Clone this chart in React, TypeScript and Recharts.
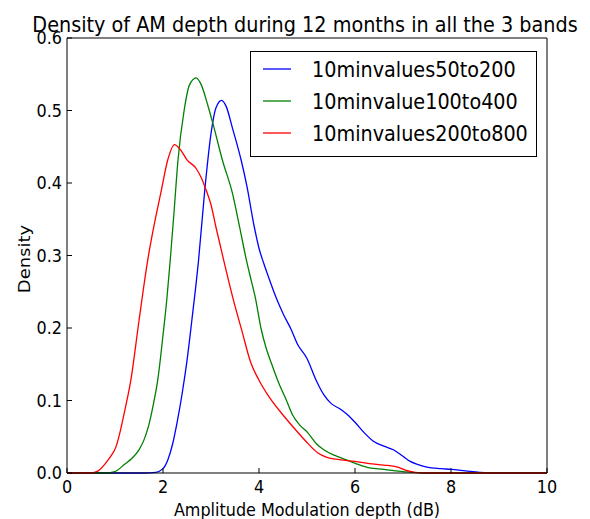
import { LineChart, Line, XAxis, YAxis } from "recharts";

// density curves, [x (dB), density]
const blueDensity: [number, number][] = [
  [0, 0], [1.6, 0], [1.85, 0.001], [2.0, 0.006], [2.1, 0.018], [2.2, 0.04], [2.3, 0.072],
  [2.4, 0.11], [2.5, 0.155], [2.6, 0.21], [2.74, 0.293], [2.87, 0.39], [3.0, 0.468],
  [3.1, 0.503], [3.22, 0.514], [3.32, 0.505], [3.45, 0.475], [3.63, 0.431], [3.75, 0.395],
  [3.9, 0.34], [4.0, 0.31], [4.1, 0.289], [4.2, 0.27], [4.35, 0.243], [4.5, 0.22],
  [4.67, 0.198], [4.8, 0.178], [5.0, 0.158], [5.19, 0.128], [5.35, 0.108], [5.5, 0.096],
  [5.7, 0.088], [5.85, 0.08], [6.0, 0.07], [6.2, 0.055], [6.4, 0.043], [6.6, 0.037],
  [6.8, 0.032], [7.0, 0.023], [7.15, 0.016], [7.3, 0.012], [7.5, 0.008], [7.8, 0.006],
  [8.0, 0.005], [8.3, 0.003], [8.6, 0.001], [9.0, 0], [10, 0],
];

const greenDensity: [number, number][] = [
  [0, 0], [0.8, 0], [1.0, 0.002], [1.2, 0.012], [1.35, 0.02], [1.5, 0.032], [1.6, 0.045],
  [1.7, 0.065], [1.8, 0.095], [1.89, 0.128], [2.0, 0.19], [2.08, 0.24], [2.15, 0.293],
  [2.23, 0.36], [2.31, 0.43], [2.44, 0.5], [2.55, 0.535], [2.69, 0.545], [2.8, 0.535],
  [2.93, 0.508], [3.06, 0.477], [3.24, 0.431], [3.45, 0.385], [3.6, 0.338], [3.74, 0.293],
  [3.84, 0.265], [3.92, 0.243], [4.04, 0.2], [4.15, 0.172], [4.26, 0.151], [4.4, 0.126],
  [4.56, 0.102], [4.7, 0.08], [4.85, 0.066], [5.01, 0.056], [5.2, 0.04], [5.35, 0.032],
  [5.55, 0.025], [5.71, 0.021], [6.02, 0.013], [6.3, 0.007], [6.6, 0.005], [7.0, 0.002],
  [7.4, 0], [10, 0],
];

const redDensity: [number, number][] = [
  [0, 0], [0.5, 0], [0.65, 0.003], [0.81, 0.014], [0.92, 0.024], [1.02, 0.036], [1.1, 0.055],
  [1.2, 0.085], [1.33, 0.128], [1.5, 0.21], [1.68, 0.293], [1.8, 0.337], [1.96, 0.388],
  [2.1, 0.432], [2.24, 0.453], [2.35, 0.447], [2.5, 0.432], [2.69, 0.42], [2.8, 0.407],
  [2.9, 0.39], [3.0, 0.37], [3.1, 0.34], [3.28, 0.289], [3.45, 0.243], [3.64, 0.197],
  [3.83, 0.152], [4.0, 0.128], [4.21, 0.105], [4.5, 0.08], [4.77, 0.059], [5.0, 0.042],
  [5.22, 0.028], [5.4, 0.022], [5.6, 0.019], [6.0, 0.016], [6.3, 0.013], [6.6, 0.011],
  [6.89, 0.008], [7.05, 0.004], [7.25, 0.001], [7.5, 0], [10, 0],
];

const X_TICKS = [0, 2, 4, 6, 8, 10];
const Y_TICKS = [0, 0.1, 0.2, 0.3, 0.4, 0.5, 0.6];

const SERIES = [
  { name: "10minvalues50to200", color: "#0000ff", points: blueDensity },
  { name: "10minvalue100to400", color: "#008000", points: greenDensity },
  { name: "10minvalues200to800", color: "#ff0000", points: redDensity },
];

const FONT = "DejaVu Sans";
const SQUEEZE = 0.89; // the reference text is a bit narrow
const FRAME = "#000";
const TICK_LEN = 5;

const toRows = (pts: [number, number][]) => pts.map(([x, y]) => ({ x, y }));

const BottomTick = ({ x, y, payload }: any) => (
  <g>
    <line x1={x} y1={y} x2={x} y2={y - TICK_LEN} stroke={FRAME} />
    <text
      transform={`translate(${x},${y + 20}) scale(${SQUEEZE},1)`}
      textAnchor="middle"
      fontSize={18}
      fontFamily={FONT}
      fill="#000"
    >
      {payload.value}
    </text>
  </g>
);

const TopTick = ({ x, y }: any) => (
  <line x1={x} y1={y} x2={x} y2={y + TICK_LEN} stroke={FRAME} />
);

const LeftTick = ({ x, y, payload }: any) => (
  <g>
    <line x1={x} y1={y} x2={x + TICK_LEN} y2={y} stroke={FRAME} />
    <text
      transform={`translate(${x - 5},${y + 6}) scale(${SQUEEZE},1)`}
      textAnchor="end"
      fontSize={18}
      fontFamily={FONT}
      fill="#000"
    >
      {Number(payload.value).toFixed(1)}
    </text>
  </g>
);

const RightTick = ({ x, y }: any) => (
  <line x1={x} y1={y} x2={x - TICK_LEN} y2={y} stroke={FRAME} />
);

const Overlay = () => (
  <svg
    width={590}
    height={519}
    style={{ position: "absolute", left: 0, top: 0, pointerEvents: "none" }}
  >
    <text
      transform={`translate(305,32) scale(${SQUEEZE},1)`}
      textAnchor="middle"
      fontSize={21.6}
      fontFamily={FONT}
      fill="#000"
    >
      Density of AM depth during 12 months in all the 3 bands
    </text>
    <text
      transform={`translate(307,516) scale(${SQUEEZE},1)`}
      textAnchor="middle"
      fontSize={18}
      fontFamily={FONT}
      fill="#000"
    >
      Amplitude Modulation depth (dB)
    </text>
    <text
      transform={`translate(30,259) rotate(-90) scale(1,${SQUEEZE})`}
      textAnchor="middle"
      fontSize={18}
      fontFamily={FONT}
      fill="#000"
    >
      Density
    </text>
    <rect x={250.5} y={51.5} width={286} height={105} fill="#fff" stroke={FRAME} />
    {SERIES.map((s, i) => {
      const cy = 69 + i * 32;
      return (
        <g key={s.name}>
          <line x1={263} y1={cy} x2={291} y2={cy} stroke={s.color} strokeWidth={1.3} />
          <text
            transform={`translate(312,${cy + 8}) scale(${SQUEEZE},1)`}
            fontSize={21.6}
            fontFamily={FONT}
            fill="#000"
          >
            {s.name}
          </text>
        </g>
      );
    })}
  </svg>
);

export default function App() {
  return (
    <div
      style={{
        position: "absolute",
        left: 0,
        top: 0,
        width: 590,
        height: 519,
        background: "#fff",
      }}
    >
      <LineChart
        width={590}
        height={519}
        margin={{ top: 37, right: 42, bottom: 45, left: 66 }}
      >
        <XAxis
          dataKey="x"
          type="number"
          domain={[0, 10]}
          ticks={X_TICKS}
          height={1}
          tickSize={0}
          tickMargin={0}
          tick={<BottomTick />}
          axisLine={{ stroke: FRAME }}
          tickLine={false}
          interval={0}
        />
        <XAxis
          xAxisId="top"
          orientation="top"
          dataKey="x"
          type="number"
          domain={[0, 10]}
          ticks={X_TICKS}
          height={1}
          tickSize={0}
          tickMargin={0}
          tick={<TopTick />}
          axisLine={{ stroke: FRAME }}
          tickLine={false}
          interval={0}
        />
        <YAxis
          type="number"
          domain={[0, 0.6]}
          ticks={Y_TICKS}
          width={1}
          tickSize={0}
          tickMargin={0}
          tick={<LeftTick />}
          axisLine={{ stroke: FRAME }}
          tickLine={false}
          interval={0}
        />
        <YAxis
          yAxisId="right"
          orientation="right"
          type="number"
          domain={[0, 0.6]}
          ticks={Y_TICKS}
          width={1}
          tickSize={0}
          tickMargin={0}
          tick={<RightTick />}
          axisLine={{ stroke: FRAME }}
          tickLine={false}
          interval={0}
        />
        {SERIES.map((s) => (
          <Line
            key={s.name}
            data={toRows(s.points)}
            dataKey="y"
            name={s.name}
            type="monotone"
            stroke={s.color}
            strokeWidth={1.3}
            dot={false}
            activeDot={false}
            isAnimationActive={false}
          />
        ))}
      </LineChart>
      <Overlay />
    </div>
  );
}
